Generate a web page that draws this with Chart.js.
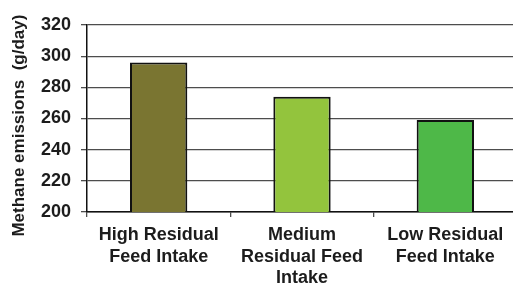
<!DOCTYPE html>
<html>
<head>
<meta charset="utf-8">
<title>Methane emissions by residual feed intake</title>
<script src="https://cdn.jsdelivr.net/npm/chart.js"></script>
<style>
  html, body { margin: 0; padding: 0; background: #ffffff; overflow: hidden; }
  .chart-box { position: relative; width: 517px; height: 286px; }
</style>
</head>
<body>
<div class="chart-box"><canvas id="methaneChart"></canvas></div>
<script>
  // values
  const categories = [
    ['High Residual', 'Feed Intake'],
    ['Medium', 'Residual Feed', 'Intake'],
    ['Low Residual', 'Feed Intake'],
  ];
  const methaneValues = [296, 274, 259];
  const yTickValues = [200, 220, 240, 260, 280, 300, 320];
  const barColors = ['#7a7531', '#93c43d', '#4eb848'];

  const FONT_FAMILY = '"Liberation Sans", Arial, sans-serif';
  const TEXT_COLOR = '#1c1c1c';
  const GRID_COLOR = '#4d4d4d';

  /**
   * Build the bar chart on the given canvas.
   *
   * @param {HTMLCanvasElement} canvas
   * @returns {Chart}
   */
  function renderMethaneChart(canvas) {
    return new Chart(canvas.getContext('2d'), {
      type: 'bar',
      data: {
        labels: categories,
        datasets: [
          {
            label: 'Methane emissions',
            data: methaneValues,
            backgroundColor: barColors,
            borderColor: '#111111',
            borderWidth: 2,
            borderSkipped: false,
            barPercentage: 0.4,
            categoryPercentage: 1,
          },
        ],
      },
      options: {
        responsive: true,
        maintainAspectRatio: false,
        animation: false,
        layout: {
          padding: { top: 25, left: 0, right: 0, bottom: 0 },
        },
        plugins: {
          legend: { display: false },
          tooltip: { enabled: false },
        },
        scales: {
          x: {
            offset: true,
            grid: {
              drawOnChartArea: false,
              drawTicks: true,
              tickLength: 5,
              tickColor: GRID_COLOR,
              lineWidth: 1.3,
            },
            border: { display: true, color: '#111111', width: 1.5 },
            ticks: {
              color: TEXT_COLOR,
              padding: 8,
              maxRotation: 0,
              autoSkip: false,
              font: { family: FONT_FAMILY, size: 18, weight: 'bold', lineHeight: 1.17 },
            },
            afterFit: (scale) => {
              scale.height = 74;
            },
          },
          y: {
            min: 200,
            max: 320,
            afterBuildTicks: (scale) => {
              scale.ticks = yTickValues.map((value) => ({ value }));
            },
            grid: {
              color: GRID_COLOR,
              lineWidth: 1.3,
              tickLength: 6,
              tickColor: GRID_COLOR,
            },
            border: { display: true, color: '#111111', width: 1.5 },
            ticks: {
              color: TEXT_COLOR,
              padding: 10,
              font: { family: FONT_FAMILY, size: 18, weight: 'bold' },
            },
            title: {
              display: true,
              // trailing spaces nudge the rotated label down to where the original sits
              text: 'Methane emissions  (g/day)   ',
              color: TEXT_COLOR,
              padding: { top: 9, bottom: 0 },
              font: { family: FONT_FAMILY, size: 17, weight: 'bold' },
            },
            afterFit: (scale) => {
              scale.width = 87;
            },
          },
        },
      },
    });
  }

  renderMethaneChart(document.getElementById('methaneChart'));
</script>
</body>
</html>
